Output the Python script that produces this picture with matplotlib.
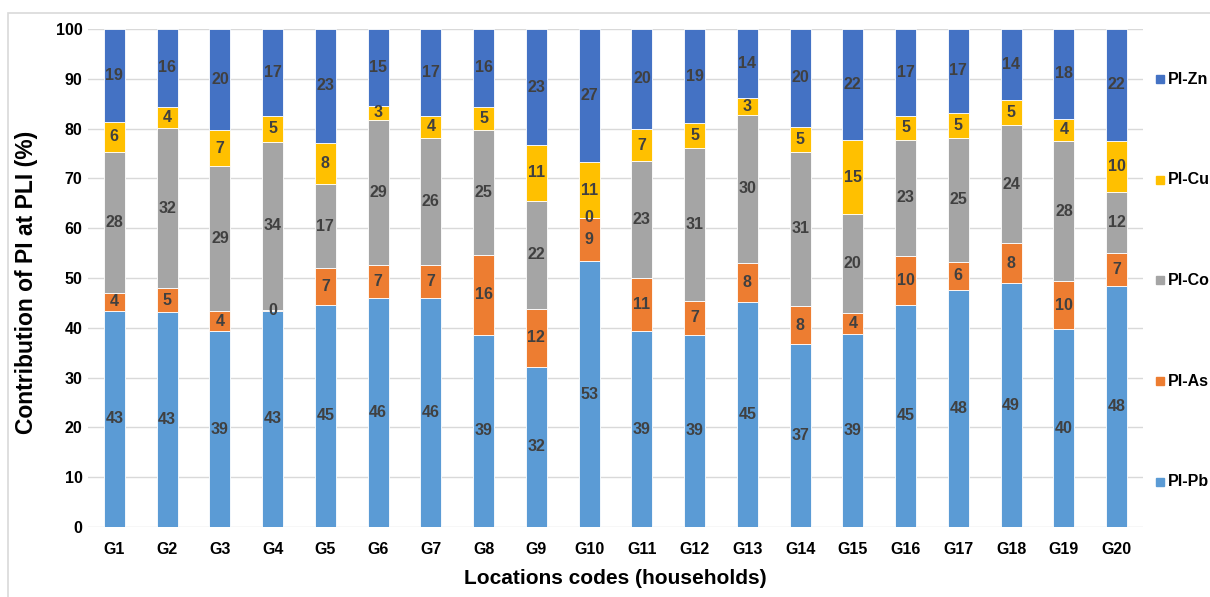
import numpy as np
import matplotlib.pyplot as plt
from matplotlib.patches import Rectangle

plt.rcParams['font.family'] = ['Liberation Sans', 'DejaVu Sans']
plt.rcParams['font.weight'] = 'bold'

groups = ['G%d' % i for i in range(1, 21)]

# share of each pollution index in the PLI, per household (%)
pi_pb = [43.4, 43.1, 39.3, 43.4, 44.6, 46.0, 46.0, 38.6, 32.2, 53.4,
         39.3, 38.6, 45.2, 36.7, 38.8, 44.6, 47.6, 48.9, 39.7, 48.4]
pi_as = [3.6, 4.8, 4.1, 0.2, 7.4, 6.7, 6.6, 16.1, 11.6, 8.7,
         10.8, 6.8, 7.9, 7.7, 4.1, 9.8, 5.7, 8.1, 9.6, 6.6]
pi_co = [28.4, 32.3, 29.1, 33.7, 16.8, 29.0, 25.6, 25.0, 21.7, 0.0,
         23.3, 30.8, 29.7, 31.0, 19.9, 23.4, 24.9, 23.7, 28.3, 12.2]
pi_cu = [6.0, 4.2, 7.2, 5.3, 8.4, 2.9, 4.4, 4.7, 11.2, 11.1,
         6.6, 4.9, 3.4, 5.0, 14.9, 4.8, 5.0, 5.0, 4.4, 10.4]
pi_zn = [18.6, 15.6, 20.3, 17.4, 22.8, 15.4, 17.4, 15.6, 23.3, 26.8,
         20.0, 18.9, 13.8, 19.6, 22.3, 17.4, 16.8, 14.3, 18.0, 22.4]

series = [('PI-Pb', pi_pb, '#5B9BD5'),
          ('PI-As', pi_as, '#ED7D31'),
          ('PI-Co', pi_co, '#A5A5A5'),
          ('PI-Cu', pi_cu, '#FFC000'),
          ('PI-Zn', pi_zn, '#4472C4')]

W, H = 1210, 597
fig = plt.figure(figsize=(W / 100, H / 100), dpi=100)
ax = fig.add_axes([88 / W, 1 - 527 / H, (1143 - 88) / W, (527 - 29) / H])

# chart frame
fig.patches.append(Rectangle((8 / W, -0.05), 1.2, 1 - 13 / H + 0.05,
                             transform=fig.transFigure, fill=False,
                             edgecolor='#d9d9d9', lw=1.2))

x = np.arange(len(groups))
bottom = np.zeros(len(groups))
for name, vals, color in series:
    vals = np.array(vals)
    ax.bar(x, vals, 0.4, bottom=bottom, color=color, edgecolor='white',
           linewidth=0.6, zorder=3)
    for xi, b, v in zip(x, bottom, vals):
        ax.text(xi, b + v / 2, f'{v:.0f}', ha='center', va='center',
                fontsize=11.5, color='#404040', fontweight='bold', zorder=4)
    bottom += vals

ax.set_xlim(-0.5, len(groups) - 0.5)
ax.set_ylim(0, 100)
ax.set_yticks(np.arange(0, 101, 10))
ax.set_xticks(x)
ax.set_xticklabels(groups)
ax.tick_params(axis='both', length=0, labelsize=11.5)
ax.tick_params(axis='x', pad=11)
ax.tick_params(axis='y', pad=4)
for lab in ax.get_xticklabels() + ax.get_yticklabels():
    lab.set_fontweight('bold')
ax.grid(axis='y', color='#d9d9d9', lw=1, zorder=0)
for s in ax.spines.values():
    s.set_visible(False)

fig.text(615 / W, 1 - 579 / H, 'Locations codes (households)',
         ha='center', va='center', fontsize=15, fontweight='bold')
fig.text(27 / W, 1 - 282 / H, 'Contribution of PI at PLI (%)',
         ha='center', va='center', rotation=90, fontsize=16.5,
         fontweight='bold')

# legend, top entry first
for i, (name, vals, color) in enumerate(series[::-1]):
    yc = 79 + i * 100.7
    fig.patches.append(Rectangle((1156 / W, 1 - (yc + 4) / H), 8 / W, 8 / H,
                                 transform=fig.transFigure, color=color))
    fig.text(1168 / W, 1 - yc / H, name, ha='left', va='center',
             fontsize=11.5, fontweight='bold')

fig.savefig('out.png', dpi=100)
